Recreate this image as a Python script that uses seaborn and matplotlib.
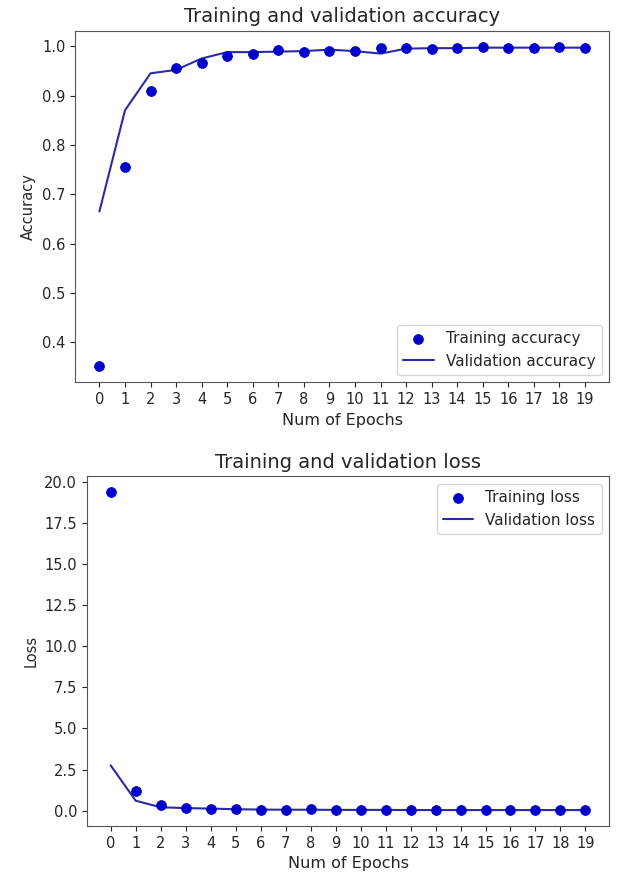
import numpy as np
import pandas as pd
import matplotlib
matplotlib.use("Agg")
import matplotlib.pyplot as plt
import seaborn as sns

sns.set_style("ticks")
plt.rcParams['font.family'] = ['DejaVu Sans']

epochs = list(range(20))
train_acc = [0.351, 0.755, 0.91, 0.955, 0.965, 0.98, 0.985, 0.992, 0.988, 0.99,
             0.99, 0.996, 0.997, 0.995, 0.997, 0.999, 0.997, 0.997, 0.999, 0.997]
val_acc = [0.665, 0.87, 0.945, 0.952, 0.975, 0.988, 0.988, 0.989, 0.99, 0.993,
           0.99, 0.985, 0.995, 0.996, 0.996, 0.997, 0.997, 0.997, 0.997, 0.997]
train_loss = [19.4, 1.2, 0.35, 0.17, 0.1, 0.08, 0.03, 0.03, 0.08, 0.02,
              0.02, 0.02, 0.02, 0.02, 0.02, 0.02, 0.02, 0.02, 0.02, 0.02]
val_loss = [2.75, 0.6, 0.2, 0.15, 0.12, 0.08, 0.06, 0.05, 0.05, 0.04,
            0.04, 0.04, 0.03, 0.03, 0.03, 0.03, 0.03, 0.03, 0.03, 0.03]

df = pd.DataFrame({"epoch": epochs, "train_acc": train_acc, "val_acc": val_acc,
                   "train_loss": train_loss, "val_loss": val_loss})

fig = plt.figure(figsize=(6.21, 8.77), dpi=100)
ax1 = fig.add_axes([0.121, 0.564, 0.86, 0.401])
ax2 = fig.add_axes([0.14, 0.058, 0.841, 0.399])

blue = "#0000cc"
for ax, tr, va, name, ylab, loc in [
        (ax1, "train_acc", "val_acc", "accuracy", "Accuracy", "lower right"),
        (ax2, "train_loss", "val_loss", "loss", "Loss", "upper right")]:
    sns.scatterplot(data=df, x="epoch", y=tr, ax=ax, color=blue, s=50,
                    edgecolor=blue, label="Training " + name, zorder=3)
    sns.lineplot(data=df, x="epoch", y=va, ax=ax, color="#2a2aa8", linewidth=1.5,
                 label="Validation " + name)
    ax.set_title("Training and validation " + name, fontsize=14)
    ax.set_xlabel("Num of Epochs", fontsize=11.5)
    ax.set_ylabel(ylab, fontsize=10.5)
    ax.set_xticks(epochs)
    ax.tick_params(labelsize=10.5)
    ax.legend(loc=loc, fontsize=11)
    for s in ax.spines.values():
        s.set_color("#555555")

ax2.set_yticks(np.arange(0, 20.1, 2.5))
ax2.yaxis.set_major_formatter(matplotlib.ticker.FormatStrFormatter("%.1f"))

fig.savefig("out.png", dpi=100)
